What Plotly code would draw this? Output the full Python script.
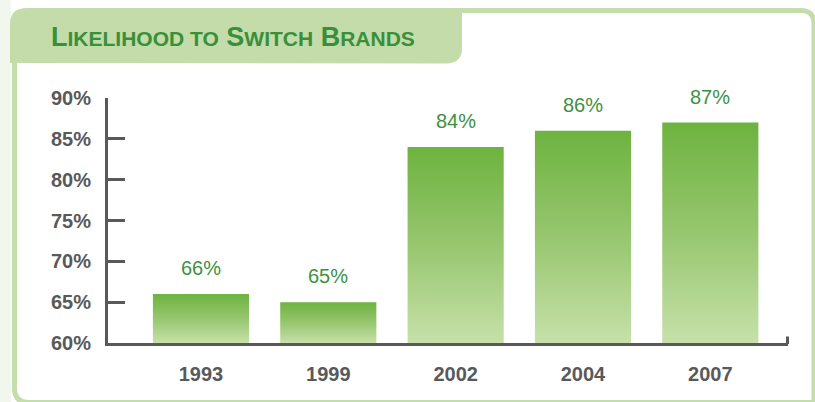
import plotly.graph_objects as go

# ---- data ----
years = ["1993", "1999", "2002", "2004", "2007"]
values = [66, 65, 84, 86, 87]
y_ticks = [60, 65, 70, 75, 80, 85, 90]
y_tick_labels = ["60%", "65%", "70%", "75%", "80%", "85%", "90%"]
value_labels = ["66%", "65%", "84%", "86%", "87%"]

W, H = 815, 402
L_PX, R_PX, T_PX, B_PX = 108, 788, 98, 343  # plot area in pixels
X_RANGE = [-0.73, 4.61]
Y_RANGE = [60, 90]
BAR_W = 0.755

def xp(px):
    return (px - L_PX) / (R_PX - L_PX)

def yp(py):
    return (B_PX - py) / (B_PX - T_PX)

GREEN_TXT = "#3d9142"
AXIS_CLR = "#595959"
FRAME_CLR = "#c4ddab"

fig = go.Figure()

for i, v in enumerate(values):
    x0, x1 = i - BAR_W / 2, i + BAR_W / 2
    fig.add_trace(go.Scatter(
        x=[x0, x1, x1, x0, x0],
        y=[Y_RANGE[0], Y_RANGE[0], v, v, Y_RANGE[0]],
        mode="lines",
        line=dict(width=0),
        fill="toself",
        fillgradient=dict(
            type="vertical",
            colorscale=[[0, "#c6e1a9"], [0.5, "#97c66f"], [1, "#6db33f"]],
        ),
        hoverinfo="skip",
        showlegend=False,
    ))
    fig.add_annotation(
        x=i, y=v, text=value_labels[i], showarrow=False,
        yanchor="bottom", yshift=13,
        font=dict(family="Liberation Sans, Arial, sans-serif", size=20, color=GREEN_TXT),
    )

shapes = []
# faint background strip on the left
shapes.append(dict(type="rect", xref="paper", yref="paper", layer="below",
                   x0=xp(0), x1=xp(11), y0=yp(402), y1=yp(0),
                   fillcolor="#f1f7ec", line=dict(width=0)))
# frame: left + bottom border
path_left = (f"M {xp(14.5)},{yp(60)} L {xp(14.5)},{yp(388)} "
             f"Q {xp(14.5)},{yp(402.5)} {xp(29)},{yp(402.5)} L {xp(815)},{yp(402.5)}")
shapes.append(dict(type="path", xref="paper", yref="paper", layer="below",
                   path=path_left, line=dict(color=FRAME_CLR, width=5)))
# frame: top + right border
path_top = (f"M {xp(455)},{yp(10.5)} L {xp(801)},{yp(10.5)} "
            f"Q {xp(814)},{yp(10.5)} {xp(814)},{yp(24)} L {xp(814)},{yp(402)}")
shapes.append(dict(type="path", xref="paper", yref="paper", layer="below",
                   path=path_top, line=dict(color=FRAME_CLR, width=5)))
# title tab
path_tab = (f"M {xp(10)},{yp(63)} L {xp(10)},{yp(24)} Q {xp(10)},{yp(8)} {xp(27)},{yp(8)} "
            f"L {xp(462)},{yp(8)} L {xp(462)},{yp(48)} Q {xp(462)},{yp(63.5)} {xp(446)},{yp(63.5)} Z")
shapes.append(dict(type="path", xref="paper", yref="paper", layer="below",
                   path=path_tab, fillcolor="#c3dcaa", line=dict(width=0)))
# small end tick on the x axis
shapes.append(dict(type="line", xref="paper", yref="paper",
                   x0=xp(787.5), x1=xp(787.5), y0=yp(344), y1=yp(336.5),
                   line=dict(color=AXIS_CLR, width=3)))

big, small = 27, 21
title_html = (f"L<span style='font-size:{small}px'>IKELIHOOD TO</span> "
              f"S<span style='font-size:{small}px'>WITCH</span> "
              f"B<span style='font-size:{small}px'>RANDS</span>")
fig.add_annotation(
    xref="paper", yref="paper", x=xp(49), y=yp(37), xanchor="left", yanchor="middle",
    text=title_html, showarrow=False,
    font=dict(family="Liberation Sans, Arial, sans-serif", size=big, color="#3a8f3a", weight="bold"),
)

fig.update_layout(
    width=W, height=H,
    margin=dict(l=L_PX, r=W - R_PX, t=T_PX, b=H - B_PX, pad=0),
    paper_bgcolor="white", plot_bgcolor="rgba(0,0,0,0)",
    shapes=shapes,
    showlegend=False,
    xaxis=dict(
        range=X_RANGE, tickvals=list(range(len(years))), ticktext=years,
        showgrid=False, zeroline=False, showline=True, linecolor=AXIS_CLR, linewidth=3,
        ticks="", ticklabelstandoff=11, fixedrange=True,
        tickfont=dict(family="Liberation Sans, Arial, sans-serif", size=20, color="#58595b", weight="bold"),
    ),
    yaxis=dict(
        range=Y_RANGE, tickvals=y_ticks, ticktext=y_tick_labels,
        showgrid=False, zeroline=False, showline=True, linecolor=AXIS_CLR, linewidth=3,
        ticks="inside", ticklen=17, tickwidth=3, tickcolor=AXIS_CLR,
        ticklabelstandoff=10, fixedrange=True,
        tickfont=dict(family="Liberation Sans, Arial, sans-serif", size=20, color="#58595b", weight="bold"),
    ),
)

fig.write_html("out.html", config={"displayModeBar": False},
               post_script="document.body.style.margin='0';")
